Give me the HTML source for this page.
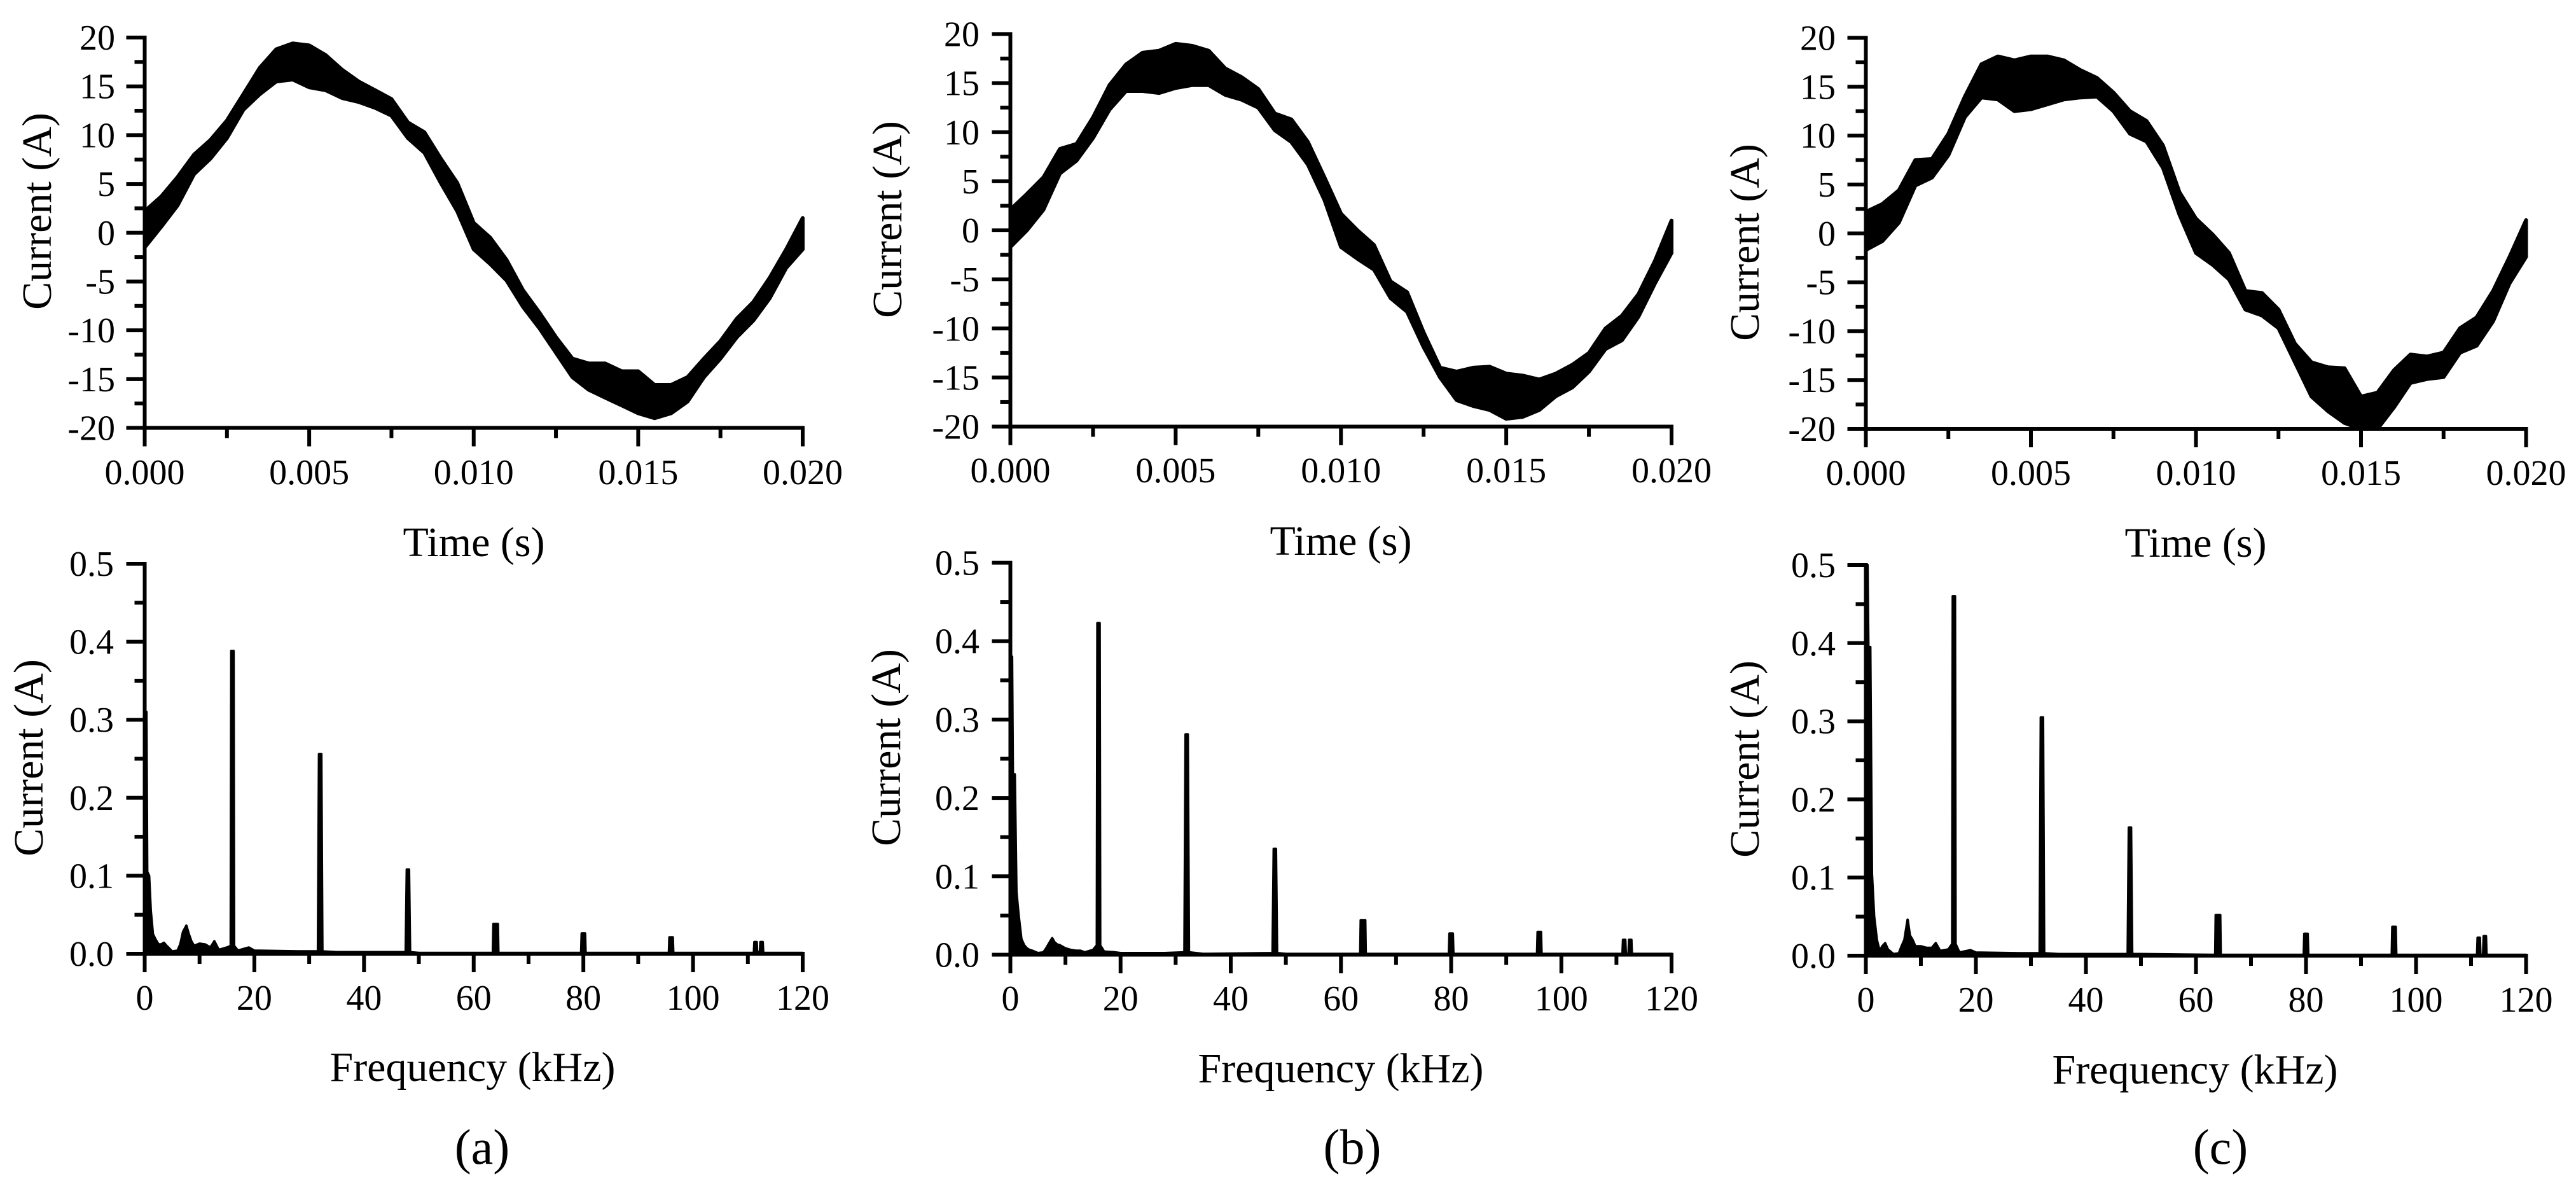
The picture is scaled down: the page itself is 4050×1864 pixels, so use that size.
<!DOCTYPE html>
<html lang="en">
<head>
<meta charset="utf-8">
<title>Current waveforms and spectra</title>
<style>
html,body{margin:0;padding:0;background:#fff;}
svg{display:block;}
text{font-family:"Liberation Serif","Times New Roman",serif;fill:#000;}
.tick-text{font-size:56px;}
.axis-title{font-size:66px;}
.freq-title{font-size:66px;}
.panel-tag{font-size:78px;}
</style>
</head>
<body>
<svg id="figure" xmlns="http://www.w3.org/2000/svg" width="4050" height="1864" viewBox="0 0 4050 1864">
  <rect x="0" y="0" width="4050" height="1864" fill="#fff"/>
  <g id="wave-a"></g>
  <g id="wave-b"></g>
  <g id="wave-c"></g>
  <g id="spec-a"></g>
  <g id="spec-b"></g>
  <g id="spec-c"></g>

  <text class="axis-title" text-anchor="middle" transform="translate(80 332) rotate(-90)">Current (A)</text>
  <text class="axis-title" text-anchor="middle" transform="translate(1417 345) rotate(-90)">Current (A)</text>
  <text class="axis-title" text-anchor="middle" transform="translate(2765 381) rotate(-90)">Current (A)</text>
  <text class="axis-title" text-anchor="middle" transform="translate(67 1191) rotate(-90)">Current (A)</text>
  <text class="axis-title" text-anchor="middle" transform="translate(1415 1175) rotate(-90)">Current (A)</text>
  <text class="axis-title" text-anchor="middle" transform="translate(2765 1193) rotate(-90)">Current (A)</text>

  <text class="axis-title" text-anchor="middle" x="745" y="874">Time (s)</text>
  <text class="axis-title" text-anchor="middle" x="2108" y="872">Time (s)</text>
  <text class="axis-title" text-anchor="middle" x="3452" y="875">Time (s)</text>
  <text class="freq-title" text-anchor="middle" x="743" y="1699">Frequency (kHz)</text>
  <text class="freq-title" text-anchor="middle" x="2108" y="1701">Frequency (kHz)</text>
  <text class="freq-title" text-anchor="middle" x="3451" y="1703">Frequency (kHz)</text>

  <text class="panel-tag" text-anchor="middle" x="758" y="1829">(a)</text>
  <text class="panel-tag" text-anchor="middle" x="2126" y="1829">(b)</text>
  <text class="panel-tag" text-anchor="middle" x="3491" y="1829">(c)</text>
</svg>

<script>
// ---- time-domain data: envelope of the current ripple band (A) ----
const timeSamples = [0,0.0005,0.001,0.0015,0.002,0.0025,0.003,0.0035,0.004,0.0045,0.005,0.0055,0.006,0.0065,0.007,0.0075,0.008,0.0085,0.009,0.0095,0.01,0.0105,0.011,0.0115,0.012,0.0125,0.013,0.0135,0.014,0.0145,0.015,0.0155,0.016,0.0165,0.017,0.0175,0.018,0.0185,0.019,0.0195,0.02];
const upperA = [2.2,3.7,5.7,8.0,9.5,11.5,14.2,16.9,18.8,19.4,19.2,18.2,16.7,15.5,14.6,13.7,11.3,10.3,7.6,5.1,1.0,-0.5,-2.8,-5.9,-8.2,-10.7,-12.9,-13.4,-13.4,-14.2,-14.2,-15.6,-15.6,-14.8,-12.9,-11.1,-8.8,-7.1,-4.6,-1.7,1.5];
const lowerA = [-1.5,0.6,2.8,6.0,7.6,9.7,12.6,14.2,15.5,15.7,14.9,14.6,13.8,13.4,12.8,12.0,9.7,8.2,5.1,2.2,-1.7,-3.2,-4.9,-7.6,-9.8,-12.3,-14.8,-16.1,-16.9,-17.7,-18.5,-19.0,-18.5,-17.3,-14.8,-12.9,-10.7,-9.0,-6.7,-3.6,-1.7];
const upperB = [2.1,3.7,5.4,8.3,8.8,11.5,14.8,16.9,18.1,18.3,19.0,18.8,18.3,16.5,15.6,14.4,11.9,11.3,9.0,5.4,1.7,0,-1.5,-5.2,-6.3,-10.4,-14.0,-14.4,-14.0,-13.9,-14.6,-14.8,-15.2,-14.6,-13.7,-12.5,-10.0,-8.7,-6.5,-3.1,1.0];
const lowerB = [-1.7,0,2.1,5.8,7.1,9.4,12.3,14.2,14.2,14.0,14.5,14.8,14.8,13.8,13.3,12.5,10.2,9.0,6.7,3.1,-1.7,-2.9,-4.0,-6.9,-8.3,-11.9,-15.0,-17.3,-17.9,-18.3,-19.2,-19.0,-18.3,-16.9,-16.0,-14.4,-12.1,-11.2,-8.8,-5.4,-2.3];
const upperC = [2.2,3.0,4.4,7.5,7.6,10.2,14.0,17.3,18.1,17.7,18.1,18.1,17.7,16.7,15.9,14.4,12.5,11.5,9.0,4.2,1.5,-0.1,-2.0,-5.9,-6.1,-7.8,-11.3,-13.2,-13.7,-13.8,-16.7,-16.3,-14.0,-12.4,-12.6,-12.2,-9.7,-8.6,-5.9,-2.4,1.35];
const lowerC = [-1.7,-0.8,1.1,4.9,5.7,8.0,11.9,13.9,13.7,12.5,12.7,13.2,13.7,13.9,14.0,12.5,10.2,9.4,6.7,1.9,-2.0,-3.2,-4.7,-7.8,-8.4,-9.7,-13.2,-16.7,-18.2,-19.4,-20,-20,-17.8,-15.3,-14.9,-14.7,-12.2,-11.5,-9.0,-5.1,-2.4];

// ---- spectrum data: frequency (kHz) and current amplitude (A) ----
const specFreq = [0,0.3,0.45,0.8,1.1,1.5,2,2.5,3,3.5,4,5,6,6.5,7,7.6,8,8.5,9,10,11,12,12.7,13.5,15,15.7,15.8,16.2,16.3,17,19,20,28,31.6,31.8,32.2,32.4,35,47.6,47.8,48.2,48.4,50,63.5,63.6,64.4,64.5,67,79.6,79.7,80.3,80.4,95.6,95.7,96.3,96.4,111.1,111.2,111.6,111.7,112.2,112.3,112.7,112.8,120];
const spectrumA = [0.31,0.31,0.105,0.10,0.055,0.025,0.018,0.012,0.012,0.014,0.010,0.003,0.004,0.012,0.028,0.036,0.026,0.016,0.010,0.013,0.012,0.008,0.016,0.005,0.008,0.010,0.388,0.388,0.01,0.004,0.008,0.004,0.003,0.003,0.256,0.256,0.003,0.002,0.002,0.108,0.108,0.002,0.001,0.001,0.038,0.038,0.001,0.001,0.001,0.026,0.026,0.001,0.001,0.021,0.021,0.001,0.001,0.015,0.015,0.002,0.002,0.015,0.015,0.001,0.001];
const spectrumB = [0.38,0.38,0.23,0.23,0.08,0.05,0.02,0.012,0.008,0.006,0.005,0.002,0.003,0.008,0.014,0.021,0.016,0.013,0.012,0.008,0.006,0.005,0.005,0.003,0.006,0.012,0.423,0.423,0.012,0.004,0.003,0.002,0.002,0.003,0.281,0.281,0.003,0.001,0.002,0.135,0.135,0.002,0.001,0.001,0.044,0.044,0.001,0.001,0.001,0.027,0.027,0.001,0.001,0.029,0.029,0.001,0.001,0.019,0.019,0.001,0.001,0.019,0.019,0.001,0.001];
const spectrumC = [0.5,0.5,0.395,0.395,0.105,0.05,0.02,0.006,0.012,0.016,0.008,0.002,0.003,0.012,0.02,0.046,0.026,0.02,0.012,0.012,0.01,0.01,0.016,0.006,0.008,0.015,0.46,0.46,0.015,0.004,0.007,0.004,0.003,0.003,0.305,0.305,0.003,0.002,0.002,0.164,0.164,0.002,0.002,0.001,0.052,0.052,0.001,0.001,0.001,0.028,0.028,0.001,0.001,0.037,0.037,0.001,0.001,0.023,0.023,0.001,0.001,0.025,0.025,0.001,0.001];

// ---- tick labels ----
const timeTickLabels = ['0.000','0.005','0.010','0.015','0.020'];
const timeMinorTicks = [0.0025,0.0075,0.0125,0.0175];
const currentTickLabels = ['20','15','10','5','0','-5','-10','-15','-20'];
const currentMinorTicks = [17.5,12.5,7.5,2.5,-2.5,-7.5,-12.5,-17.5];
const freqTickLabels = ['0','20','40','60','80','100','120'];
const freqMinorTicks = [10,30,50,70,90,110];
const ampTickLabels = ['0.5','0.4','0.3','0.2','0.1','0.0'];
const ampMinorTicks = [0.45,0.35,0.25,0.15,0.05];

const SVG_NS = 'http://www.w3.org/2000/svg';
const MAJOR_LEN = 29;
const MINOR_LEN = 16;
const AXIS_W = 6;

function linear(d0, d1, r0, r1) {
  return function (v) { return r0 + (v - d0) / (d1 - d0) * (r1 - r0); };
}

function addLine(parent, x1, y1, x2, y2, name) {
  const el = document.createElementNS(SVG_NS, 'line');
  el.setAttribute('x1', x1);
  el.setAttribute('y1', y1);
  el.setAttribute('x2', x2);
  el.setAttribute('y2', y2);
  el.setAttribute('stroke', '#000');
  el.setAttribute('stroke-width', AXIS_W);
  
  
  parent.appendChild(el);
}

function addText(parent, x, y, anchor, str, name) {
  const el = document.createElementNS(SVG_NS, 'text');
  el.setAttribute('class', 'tick-text');
  el.setAttribute('x', x);
  el.setAttribute('y', y);
  el.setAttribute('text-anchor', anchor);
  
  
  el.textContent = str;
  parent.appendChild(el);
}

function drawAxes(g, box, xFn, yFn, xLabels, xMinor, yLabels, yMinor) {
  const axisX = xFn(parseFloat(xLabels[0]));
  const axisY = yFn(parseFloat(yLabels[yLabels.length - 1]));
  const topY = yFn(parseFloat(yLabels[0]));
  const endX = xFn(parseFloat(xLabels[xLabels.length - 1]));
  addLine(g, axisX, topY - 3, axisX, axisY + MAJOR_LEN, 'y-axis-line');
  addLine(g, axisX - MAJOR_LEN, axisY, endX + 3, axisY, 'x-axis-line');
  yLabels.forEach(function (lab) {
    const y = yFn(parseFloat(lab));
    addLine(g, axisX - MAJOR_LEN, y, axisX, y, 'y-major-tick');
    addText(g, box.labelRight, y + 19, 'end', lab, 'y-tick-label');
  });
  yMinor.forEach(function (v) {
    addLine(g, axisX - MINOR_LEN, yFn(v), axisX, yFn(v), 'y-minor-tick');
  });
  xLabels.forEach(function (lab) {
    const x = xFn(parseFloat(lab));
    addLine(g, x, axisY, x, axisY + MAJOR_LEN, 'x-major-tick');
    addText(g, x, box.labelBase, 'middle', lab, 'x-tick-label');
  });
  xMinor.forEach(function (v) {
    addLine(g, xFn(v), axisY, xFn(v), axisY + MINOR_LEN, 'x-minor-tick');
  });
}

function drawWave(id, box, upper, lower) {
  const g = document.getElementById(id);
  const xFn = linear(0, 0.02, box.x0, box.x1);
  const yFn = linear(20, -20, box.top, box.bottom);
  const pts = [];
  timeSamples.forEach(function (t, i) { pts.push(xFn(t).toFixed(1) + ',' + yFn(upper[i]).toFixed(1)); });
  for (let i = timeSamples.length - 1; i >= 0; i--) {
    pts.push(xFn(timeSamples[i]).toFixed(1) + ',' + yFn(lower[i]).toFixed(1));
  }
  const band = document.createElementNS(SVG_NS, 'polygon');
  band.setAttribute('points', pts.join(' '));
  band.setAttribute('fill', '#000');
  band.setAttribute('stroke', '#000');
  band.setAttribute('stroke-width', '6');
  band.setAttribute('stroke-linejoin', 'round');
  
  
  g.appendChild(band);
  drawAxes(g, box, xFn, yFn, timeTickLabels, timeMinorTicks, currentTickLabels, currentMinorTicks);
}

function drawSpectrum(id, box, values) {
  const g = document.getElementById(id);
  const xFn = linear(0, 120, box.x0, box.x1);
  const yFn = linear(0.5, 0, box.top, box.bottom);
  const pts = [xFn(specFreq[0]).toFixed(1) + ',' + yFn(0).toFixed(1)];
  specFreq.forEach(function (f, i) { pts.push(xFn(f).toFixed(1) + ',' + yFn(values[i]).toFixed(1)); });
  pts.push(xFn(specFreq[specFreq.length - 1]).toFixed(1) + ',' + yFn(0).toFixed(1));
  const trace = document.createElementNS(SVG_NS, 'polygon');
  trace.setAttribute('points', pts.join(' '));
  trace.setAttribute('fill', '#000');
  trace.setAttribute('stroke', '#000');
  trace.setAttribute('stroke-width', '4');
  trace.setAttribute('stroke-linejoin', 'round');
  
  
  g.appendChild(trace);
  drawAxes(g, box, xFn, yFn, freqTickLabels, freqMinorTicks, ampTickLabels, ampMinorTicks);
}

drawWave('wave-a', {x0:227.5, x1:1262, top:59, bottom:672.5, labelBase:761, labelRight:181}, upperA, lowerA);
drawWave('wave-b', {x0:1588.5, x1:2628, top:53.5, bottom:670.5, labelBase:758, labelRight:1540}, upperB, lowerB);
drawWave('wave-c', {x0:2933.5, x1:3971.5, top:59.5, bottom:674, labelBase:762, labelRight:2886}, upperC, lowerC);
drawSpectrum('spec-a', {x0:227.5, x1:1262, top:886, bottom:1499, labelBase:1587, labelRight:179}, spectrumA);
drawSpectrum('spec-b', {x0:1588.5, x1:2628, top:884.5, bottom:1500.5, labelBase:1588, labelRight:1540}, spectrumB);
drawSpectrum('spec-c', {x0:2933.5, x1:3971.5, top:888, bottom:1502, labelBase:1590, labelRight:2886}, spectrumC);
</script>
</body>
</html>
